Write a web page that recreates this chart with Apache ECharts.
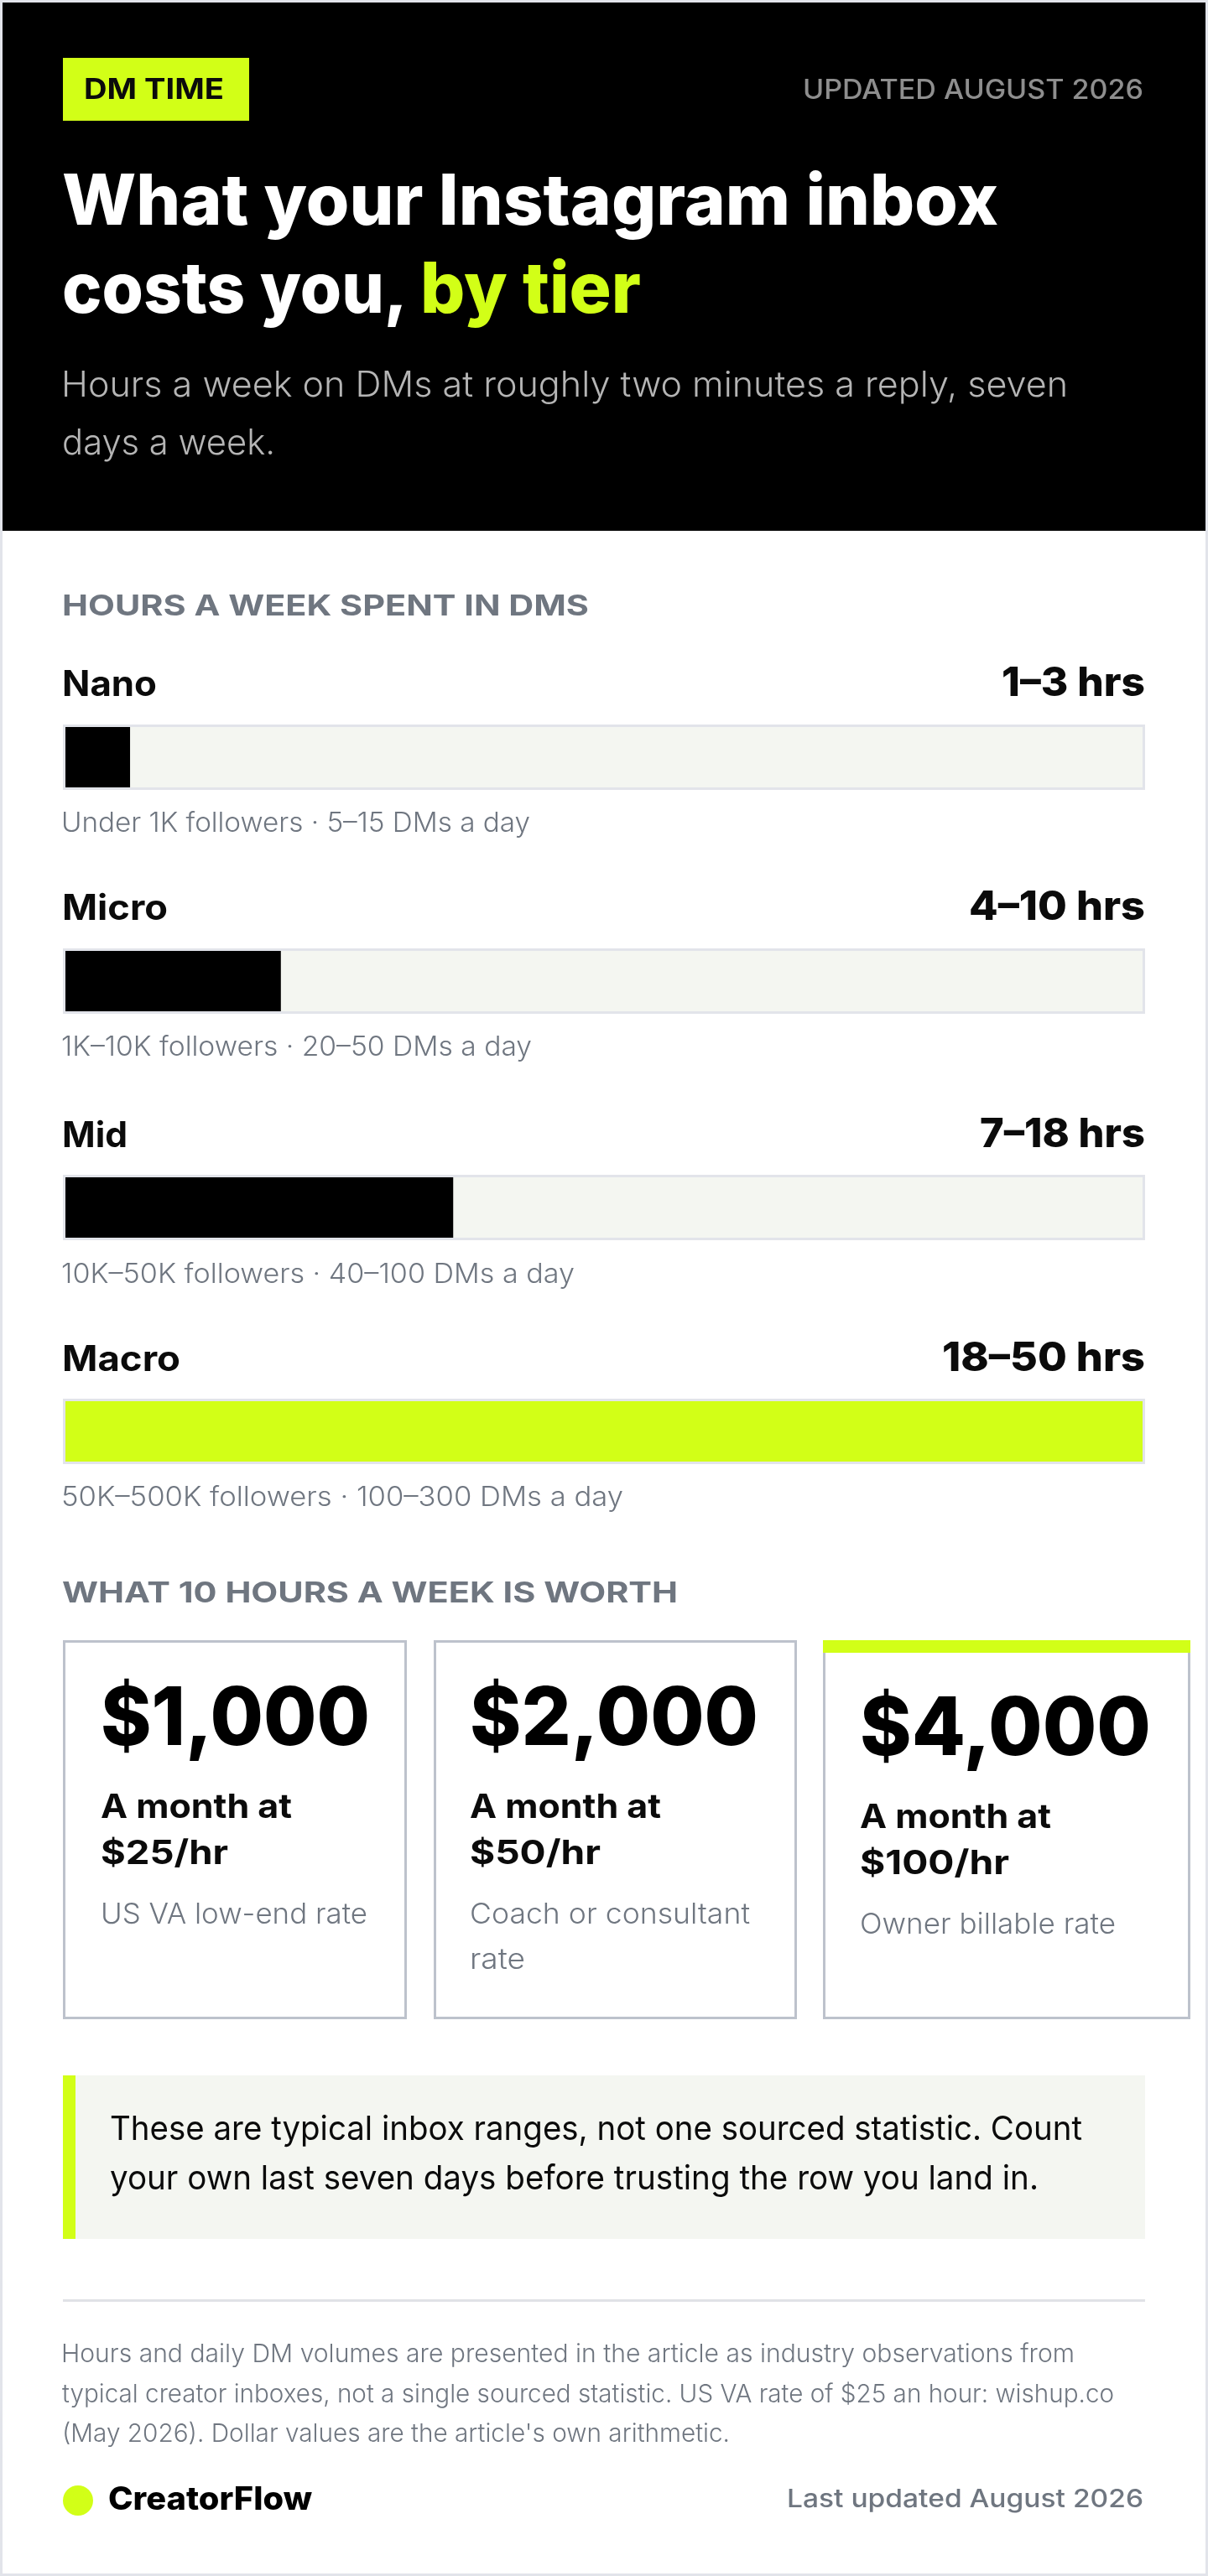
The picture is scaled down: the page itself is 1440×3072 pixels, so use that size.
<!DOCTYPE html>
<html>
<head>
<meta charset="utf-8">
<title>DM time</title>
<style>
	html,body{margin:0;padding:0;background:#fff;}
	#main{width:1440px;height:3072px;}
</style>
<script src="https://cdn.jsdelivr.net/npm/echarts@6/dist/echarts.min.js"></script>
</head>
<body>
<div id="main"></div>
<script>
var tiers = ['Nano','Micro','Mid','Macro'];
var lowHours = [1,4,7,18];
var highHours = [3,10,18,50];
var followers = ['Under 1K','1K–10K','10K–50K','50K–500K'];
var dmsPerDay = ['5–15','20–50','40–100','100–300'];
var monthlyValue = [1000,2000,4000];
var hourlyRate = [25,50,100];
var rateNotes = [['US VA low-end rate'],['Coach or consultant','rate'],['Owner billable rate']];
var axisMax = 50;

var LIME = '#d2ff17';
var INK = '#0b0b0b';
var GREY = '#6f7680';
var TRACK = '#f4f6f1';
var LINE = '#e2e4ea';
var FONT = 'Inter';

var chart = echarts.init(document.getElementById('main'));
var measure = document.createElement('canvas').getContext('2d');
var graphics = [];

// text by baseline, squeezed to the width it has in the picture
function label(x,base,str,size,weight,color,width,align) {
	var font = weight + ' ' + size + 'px ' + FONT;
	measure.font = font;
	var sx = width ? width / measure.measureText(str).width : 1;
	graphics.push({
		type: 'text',
		x: x,
		y: base - size * 0.31,
		scaleX: sx,
		z: 10,
		style: {text: str,font: font,fill: color,textAlign: align || 'left',textVerticalAlign: 'middle'}
	});
}
function box(x,y,w,h,fill,stroke,lw) {
	graphics.push({
		type: 'rect',
		z: 5,
		shape: {x: x,y: y,width: w,height: h},
		style: {fill: fill || 'none',stroke: stroke || 'none',lineWidth: lw || 0}
	});
}

// header
box(3,3,1434,630,'#000');
box(75,69,222,75,LIME);
label(100,118,'DM TIME',34,700,INK,167);
label(1363,118,'UPDATED AUGUST 2026',32,500,'#8e8e8e',406,'right');
label(74,269,'What your Instagram inbox',84,800,'#fff',1116);
label(74,374,'costs you,',84,800,'#fff',412);
label(501,374,'by tier',84,800,LIME,263);
label(73,473,'Hours a week on DMs at roughly two minutes a reply, seven',42,300,'#b5b5b5',1200);
label(74,542,'days a week.',42,300,'#b5b5b5',254);

// bars
var trackTop = [867,1134,1404,1671];
var nameBase = [830,1097,1368,1635];
var noteBase = [992,1259,1530,1796];
var nameWidth = [113,126,78,141];
var valueWidth = [171,210,197,242];
var noteWidth = [559,561,612,670];
label(74,734,'HOURS A WEEK SPENT IN DMS',34,700,GREY,628);

var grids = [],xAxes = [],yAxes = [],series = [];
tiers.forEach(function(name,i) {
	label(74,nameBase[i],name,42,700,INK,nameWidth[i]);
	label(1365,nameBase[i],lowHours[i] + '–' + highHours[i] + ' hrs',48,800,INK,valueWidth[i],'right');
	label(73,noteBase[i],followers[i] + ' followers · ' + dmsPerDay[i] + ' DMs a day',32,300,GREY,noteWidth[i]);
	box(76.5,trackTop[i] - 1.5,1287,75,null,LINE,3);
	grids.push({show: true,left: 78,width: 1284,top: trackTop[i],height: 72,backgroundColor: TRACK,borderWidth: 0});
	xAxes.push({type: 'value',gridIndex: i,min: 0,max: axisMax,show: false});
	yAxes.push({type: 'category',gridIndex: i,data: [name],show: false});
	series.push({
		type: 'bar',
		xAxisIndex: i,
		yAxisIndex: i,
		barWidth: '100%',
		silent: true,
		itemStyle: {color: i === 3 ? LIME : '#000'},
		data: [highHours[i]]
	});
});

// cards
label(74,1911,'WHAT 10 HOURS A WEEK IS WORTH',34,700,GREY,734);
var cardX = [75,517,981];
var cardW = [410,433,438];
var textX = [120,560,1025];
var shift = [0,0,12];
var bigWidth = [321,344,347];
var rateWidth = [152,156,178];
var noteWidths = [[318],[334,66],[305]];
monthlyValue.forEach(function(v,i) {
	box(cardX[i] + 1.5,1957.5,cardW[i] - 3,449,null,'#bdc2cc',3);
	label(textX[i],2082 + shift[i],'$' + v.toLocaleString('en-US'),96,800,'#000',bigWidth[i]);
	label(textX[i],2168 + shift[i],'A month at',40,700,INK,228);
	label(textX[i],2223 + shift[i],'$' + hourlyRate[i] + '/hr',40,700,INK,rateWidth[i]);
	rateNotes[i].forEach(function(line,j) {
		label(textX[i],2294 + shift[i] + j * 54,line,34,300,GREY,noteWidths[i][j]);
	});
});
box(981,1956,438,15,LIME);

// callout
box(75,2475,1290,195,TRACK);
box(75,2475,15,195,LIME);
label(131,2552,'These are typical inbox ranges, not one sourced statistic. Count',40,400,INK,1159);
label(131,2611,'your own last seven days before trusting the row you land in.',40,400,INK,1107);

// footer
box(75,2742,1290,3,'#e0e2e6');
label(73,2817,'Hours and daily DM volumes are presented in the article as industry observations from',30,300,GREY,1208);
label(74,2865,'typical creator inboxes, not a single sourced statistic. US VA rate of $25 an hour: wishup.co',30,300,GREY,1254);
label(74,2912,'(May 2026). Dollar values are the article\'s own arithmetic.',30,300,GREY,796);
graphics.push({type: 'circle',z: 5,shape: {cx: 93,cy: 2982,r: 18},style: {fill: LIME}});
label(129,2993,'CreatorFlow',38,800,'#000',243);
label(1363,2990,'Last updated August 2026',30,500,GREY,425,'right');

// page frame
box(1.5,1.5,1437,3069,null,LINE,3);

chart.setOption({
	animation: false,
	backgroundColor: '#fff',
	tooltip: {show: false},
	grid: grids,
	xAxis: xAxes,
	yAxis: yAxes,
	series: series,
	graphic: {elements: graphics}
});
</script>
</body>
</html>
